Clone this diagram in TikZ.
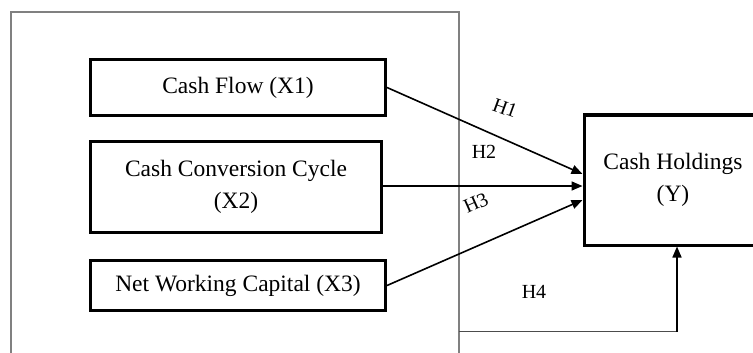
\documentclass[tikz,border=0pt]{standalone}
\usepackage{fontspec}
\setmainfont{Liberation Serif}
\usetikzlibrary{arrows.meta}
\begin{document}
\begin{tikzpicture}[x=1pt,y=-1pt,
  varbox/.style={draw=black,line width=3pt,rectangle,inner sep=0pt,
    align=center,font=\fontsize{23.5}{32}\selectfont},
  link/.style={line width=1.6pt,draw=black,-{Triangle[length=11pt,width=9pt]}},
  hlabel/.style={font=\fontsize{20}{24}\selectfont,inner sep=0pt},
  frameline/.style={draw=black!50,line width=1.6pt}]
  \clip (0,0) rectangle (753,353);
  \fill[white] (0,0) rectangle (753,353);

  % open frame around the independent variables
  \draw[frameline] (11,360) -- (11,12) -- (459,12) -- (459,360);

  % variable boxes
  \node[varbox,minimum width=295pt,minimum height=56pt] (cf) at (238,87.5) {Cash Flow (X1)};
  \node[varbox,minimum width=291pt,minimum height=91pt] (ccc) at (236,187) {Cash Conversion Cycle\\(X2)};
  \node[varbox,minimum width=295pt,minimum height=50pt] (nwc) at (238,285.5) {Net Working Capital (X3)};
  \node[varbox,minimum width=178pt,minimum height=130pt] (ch) at (673,180) {Cash Holdings\\(Y)};

  % arrow targets on the dependent variable
  \coordinate (t1) at ([yshift=6pt]ch.west);
  \coordinate (t2) at ([yshift=-6pt]ch.west);
  \coordinate (t3) at ([yshift=-20pt]ch.west);
  \coordinate (t4) at ([xshift=4pt]ch.south);
  \coordinate (h4start) at (459,331.5);

  \draw[link] (cf.east) -- (t1);
  \draw[link] (ccc.east |- t2) -- (t2);
  \draw[link] (nwc.east) -- (t3);
  \draw[draw=black!70,line width=1.6pt] (h4start) -- (h4start -| t4);
  \draw[link] (h4start -| t4) -- (t4);

  % hypothesis labels
  \node[hlabel,rotate=-20] (h1) at (505,108) {H1};
  \node[hlabel] (h2) at (484,152) {H2};
  \node[hlabel,rotate=24] (h3) at (476,203) {H3};
  \node[hlabel] (h4) at (534,292) {H4};
\end{tikzpicture}
\end{document}
